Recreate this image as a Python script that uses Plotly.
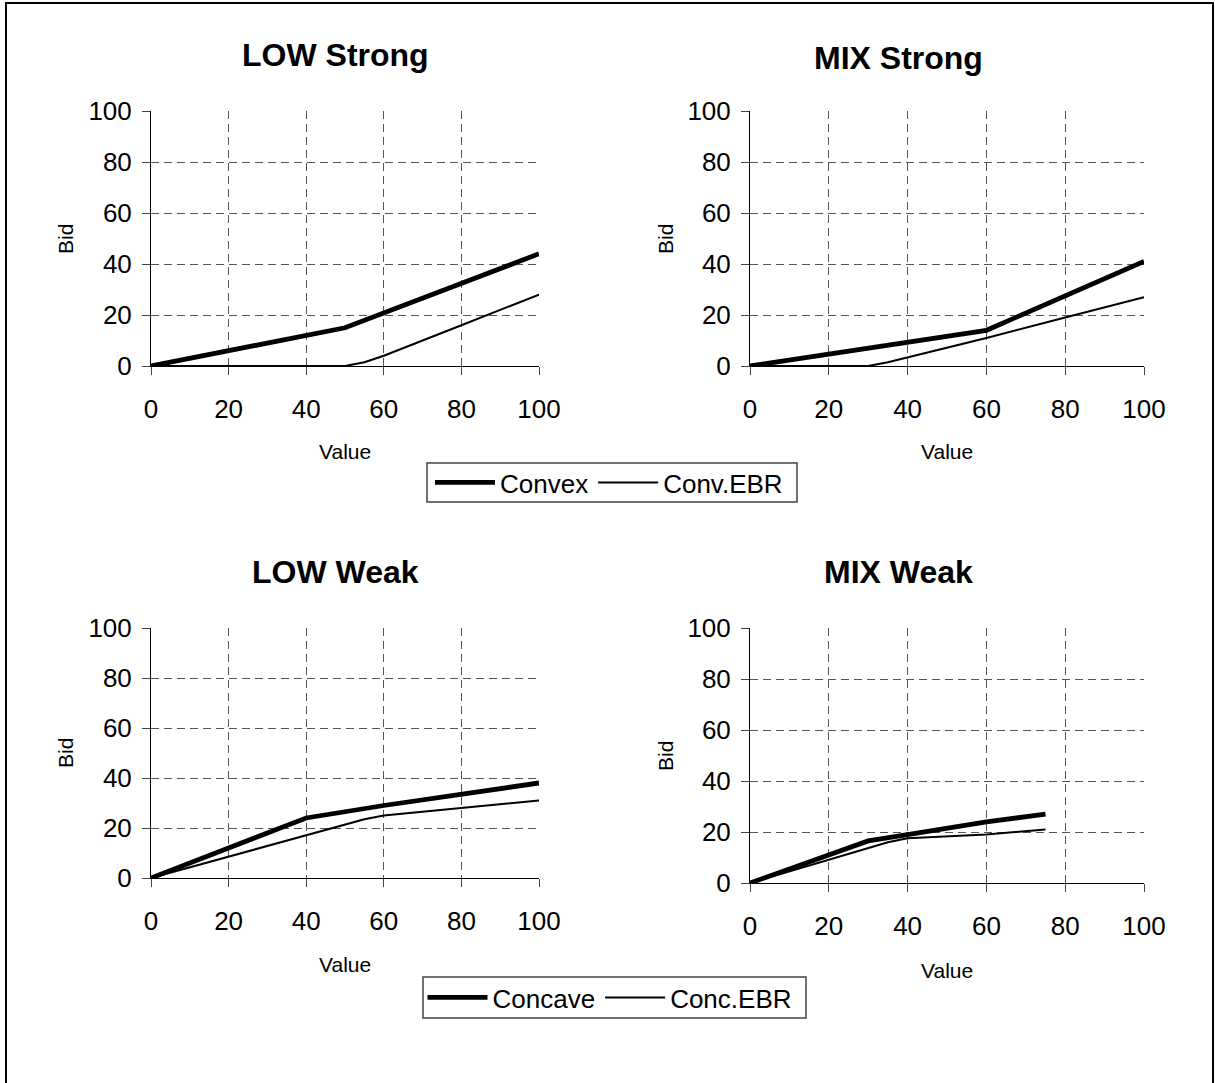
import plotly.graph_objects as go

# ---------------- data ----------------
ticks = [0, 20, 40, 60, 80, 100]
tick_labels = ["0", "20", "40", "60", "80", "100"]

titles = ["LOW Strong", "MIX Strong", "LOW Weak", "MIX Weak"]
x_title = "Value"
y_title = "Bid"

top_names = ["Convex", "Conv.EBR"]
bottom_names = ["Concave", "Conc.EBR"]

low_strong_main_x = [0, 50, 100]
low_strong_main_y = [0, 15, 44]
low_strong_ebr_x = [0, 50, 55, 60, 80, 100]
low_strong_ebr_y = [0, 0, 1.5, 4, 16, 28]

mix_strong_main_x = [0, 60, 100]
mix_strong_main_y = [0, 14, 41]
mix_strong_ebr_x = [0, 30, 35, 60, 80, 100]
mix_strong_ebr_y = [0, 0, 1.5, 11, 19, 27]

low_weak_main_x = [0, 40, 60, 100]
low_weak_main_y = [0, 24, 29, 38]
low_weak_ebr_x = [0, 20, 40, 55, 60, 80, 100]
low_weak_ebr_y = [0, 8.5, 17, 23.5, 25, 28, 31]

mix_weak_main_x = [0, 30, 40, 60, 75]
mix_weak_main_y = [0, 16.5, 19, 24, 27]
mix_weak_ebr_x = [0, 20, 35, 40, 60, 75]
mix_weak_ebr_y = [0, 9, 16, 17.5, 19, 21]

# ---------------- layout helpers ----------------
W, H = 1215, 1083
FONT = "Liberation Sans, Arial, sans-serif"


def fx(px):
    return px / W


def fy(py):
    return 1 - py / H


# plot areas in pixels: (left, right, top, bottom)
areas = [
    (151, 539, 111, 366),
    (750, 1144, 111, 366),
    (151, 539, 628, 878),
    (750, 1144, 628, 883),
]

fig = go.Figure()

series = [
    (low_strong_main_x, low_strong_main_y, low_strong_ebr_x, low_strong_ebr_y, top_names, "legend", True),
    (mix_strong_main_x, mix_strong_main_y, mix_strong_ebr_x, mix_strong_ebr_y, top_names, "legend", False),
    (low_weak_main_x, low_weak_main_y, low_weak_ebr_x, low_weak_ebr_y, bottom_names, "legend2", True),
    (mix_weak_main_x, mix_weak_main_y, mix_weak_ebr_x, mix_weak_ebr_y, bottom_names, "legend2", False),
]

for i, (mx, my, ex, ey, names, leg, show) in enumerate(series):
    suffix = "" if i == 0 else str(i + 1)
    fig.add_trace(go.Scatter(x=mx, y=my, mode="lines", name=names[0],
                             line=dict(color="black", width=4.8),
                             xaxis="x" + suffix, yaxis="y" + suffix,
                             legend=leg, showlegend=show, hoverinfo="skip"))
    fig.add_trace(go.Scatter(x=ex, y=ey, mode="lines", name=names[1],
                             line=dict(color="black", width=2),
                             xaxis="x" + suffix, yaxis="y" + suffix,
                             legend=leg, showlegend=show, hoverinfo="skip"))

axis_common = dict(
    range=[0, 100], tickmode="array", tickvals=ticks, ticktext=tick_labels,
    showline=True, linecolor="black", linewidth=1,
    ticks="outside", ticklen=8, tickcolor="#444", tickwidth=1,
    showgrid=True, gridcolor="#555", gridwidth=1, griddash="8px,5px",
    zeroline=False, tickfont=dict(family=FONT, size=26, color="black"),
    fixedrange=True, automargin=False,
)

layout = dict(
    width=W, height=H, margin=dict(l=0, r=0, t=0, b=0, pad=0, autoexpand=False),
    paper_bgcolor="white", plot_bgcolor="white",
    font=dict(family=FONT, color="black"),
)

annotations = []
for i, (l, r, t, b) in enumerate(areas):
    suffix = "" if i == 0 else str(i + 1)
    xa = dict(axis_common, domain=[fx(l), fx(r)], anchor="y" + suffix, ticklabelstandoff=12)
    ya = dict(axis_common, domain=[fy(b), fy(t)], anchor="x" + suffix, ticklabelstandoff=5)
    layout["xaxis" + suffix] = xa
    layout["yaxis" + suffix] = ya

title_pos = [(335, 55), (898, 58), (335, 572), (898, 572)]
value_pos = [(345, 451), (947, 451), (345, 964), (947, 970)]
bid_pos = [(65, 239), (665, 239), (65, 753), (665, 756)]

for i in range(4):
    tx, ty = title_pos[i]
    annotations.append(dict(text="<b>" + titles[i] + "</b>", x=fx(tx), y=fy(ty), xref="paper", yref="paper",
                            xanchor="center", yanchor="middle", showarrow=False,
                            font=dict(family=FONT, size=32, color="black")))
    vx, vy = value_pos[i]
    annotations.append(dict(text=x_title, x=fx(vx), y=fy(vy), xref="paper", yref="paper",
                            xanchor="center", yanchor="middle", showarrow=False,
                            font=dict(family=FONT, size=21, color="black")))
    bx, by = bid_pos[i]
    annotations.append(dict(text=y_title, x=fx(bx), y=fy(by), xref="paper", yref="paper",
                            xanchor="center", yanchor="middle", showarrow=False, textangle=-90,
                            font=dict(family=FONT, size=21, color="black")))

layout["annotations"] = annotations

legend_common = dict(orientation="h", bgcolor="rgba(0,0,0,0)", borderwidth=0,
                     font=dict(family=FONT, size=26, color="black"),
                     xanchor="center", yanchor="middle", itemwidth=60, tracegroupgap=0)
layout["legend"] = dict(legend_common, x=fx(609), y=fy(482.5))
layout["legend2"] = dict(legend_common, x=fx(610), y=fy(997.5))

layout["shapes"] = [
    dict(type="rect", xref="paper", yref="paper",
         x0=fx(6), x1=fx(1213), y0=fy(1090), y1=fy(3),
         line=dict(color="black", width=2), fillcolor="rgba(0,0,0,0)", layer="below"),
    dict(type="rect", xref="paper", yref="paper",
         x0=fx(427), x1=fx(797), y0=fy(502), y1=fy(463),
         line=dict(color="#444", width=1.5), fillcolor="white", layer="below"),
    dict(type="rect", xref="paper", yref="paper",
         x0=fx(423), x1=fx(806), y0=fy(1018), y1=fy(977),
         line=dict(color="#444", width=1.5), fillcolor="white", layer="below"),
]

fig.update_layout(**layout)
fig.write_html(
    "out.html",
    config={"displayModeBar": False},
    post_script="document.body.style.margin='0px';document.documentElement.style.overflow='hidden';",
)
